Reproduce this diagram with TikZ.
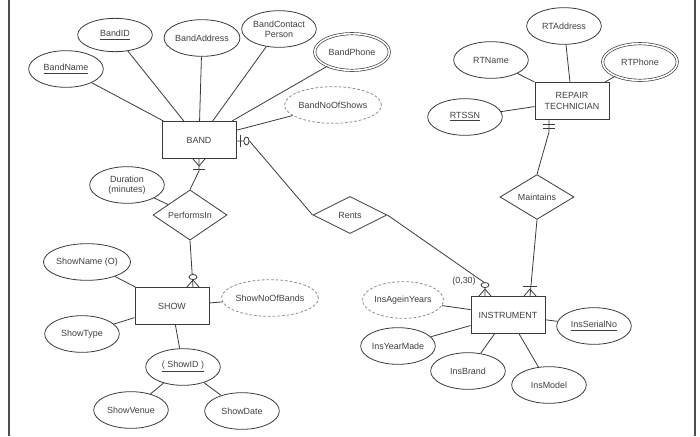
\documentclass[tikz,border=0pt]{standalone}
\usepackage{fontspec}
\setmainfont{Liberation Sans}
\usepackage{tikz}
\usetikzlibrary{shapes.geometric,calc,positioning}
\definecolor{trazo}{HTML}{3A3A3A}
\definecolor{letra}{HTML}{3F3F3F}
\definecolor{discont}{HTML}{8C8C8C}
\tikzset{
  entidad/.style={rectangle,draw=trazo,line width=0.7pt,minimum width=55.5pt,minimum height=27.75pt,inner sep=1pt,align=center,font=\fontsize{6.7}{8.2}\selectfont,text=letra},
  atrib/.style={ellipse,draw=trazo,line width=0.6pt,minimum width=56pt,minimum height=27.5pt,inner sep=0pt,align=center,font=\fontsize{6.7}{7.6}\selectfont,text=letra},
  multi/.style={atrib,double=white,double distance=1.2pt,line width=0.5pt},
  derivado/.style={atrib,draw=discont,dash pattern=on 2pt off 1.5pt},
  relacion/.style={diamond,draw=trazo,line width=0.6pt,minimum width=55.5pt,minimum height=27.75pt,inner sep=0pt,font=\fontsize{6.7}{7.6}\selectfont,text=letra},
  linea/.style={draw=trazo,line width=0.6pt},
  aro/.style={draw=trazo,line width=0.6pt,fill=white},
  card/.style={font=\fontsize{6.7}{7.6}\selectfont,text=letra,inner sep=0pt},
  marco/.style={draw=trazo!90,line width=1.2pt},
}
\begin{document}
\begin{tikzpicture}[x=0.75pt,y=-0.75pt]
\useasboundingbox (0,0) rectangle (700,436);
\draw[marco] (9,0) -- (9,436);
\draw[marco] (695,0) -- (695,436);
% entidades
\node[entidad] (band) at (199,140) {BAND};
\node[entidad] (rt) at (572,101) {REPAIR\\TECHNICIAN};
\node[entidad] (show) at (172,306) {SHOW};
\node[entidad] (instrument) at (508,315) {INSTRUMENT};
% relaciones
\node[relacion] (performsin) at (190,215) {PerformsIn};
\node[relacion] (rents) at (350,215) {Rents};
\node[relacion] (maintains) at (537,197) {Maintains};
% atributos de BAND
\node[atrib,minimum height=25pt] (bandid) at (115,35) {\underline{BandID}};
\node[atrib] (bandname) at (66,69) {\underline{BandName}};
\node[atrib] (bandaddress) at (202,38) {BandAddress};
\node[atrib] (bandcontact) at (279,29) {BandContact\\Person};
\node[multi] (bandphone) at (352,52) {BandPhone};
\node[derivado] (bandnoofshows) at (333,105) {BandNoOfShows};
\draw[linea] (bandid) -- (band);
\draw[linea] (bandname) -- (band);
\draw[linea] (bandaddress) -- (band);
\draw[linea] (bandcontact) -- (band);
\draw[linea] (bandphone) -- (band);
\draw[linea] (bandnoofshows) -- (band);
% atributos de REPAIR TECHNICIAN
\node[atrib] (rtaddress) at (564,26) {RTAddress};
\node[atrib] (rtname) at (491,60) {RTName};
\node[multi] (rtphone) at (640,62) {RTPhone};
\node[atrib] (rtssn) at (465,117) {\underline{RTSSN}};
\draw[linea] (rtaddress) -- (rt);
\draw[linea] (rtname) -- (rt);
\draw[linea] (rtphone) -- (rt);
\draw[linea] (rtssn) -- (rt);
% atributos de SHOW
\node[atrib] (duration) at (127,185) {Duration\\(minutes)};
\node[atrib] (showname) at (87,262) {ShowName (O)};
\node[atrib] (showtype) at (82,334) {ShowType};
\node[derivado] (shownoofbands) at (270,298) {ShowNoOfBands};
\node[atrib] (showid) at (183,367) {\underline{( ShowID )}};
\node[atrib] (showvenue) at (131,410) {ShowVenue};
\node[atrib] (showdate) at (242,411) {ShowDate};
\draw[linea] (duration) -- (performsin);
\draw[linea] (showname) -- (show);
\draw[linea] (showtype) -- (show);
\draw[linea] (shownoofbands) -- (show);
\draw[linea] (showid) -- (show);
\draw[linea] (showid) -- (showvenue);
\draw[linea] (showid) -- (showdate);
% atributos de INSTRUMENT
\node[derivado] (insageinyears) at (403,300) {InsAgeinYears};
\node[atrib] (insyearmade) at (398,346) {InsYearMade};
\node[atrib] (insbrand) at (468,371) {InsBrand};
\node[atrib] (insmodel) at (549,385) {InsModel};
\node[atrib] (insserialno) at (594,326) {\underline{InsSerialNo}};
\draw[linea] (insageinyears) -- (instrument);
\draw[linea] (insyearmade) -- (instrument);
\draw[linea] (insbrand) -- (instrument);
\draw[linea] (insmodel) -- (instrument);
\draw[linea] (insserialno) -- (instrument);
% BAND -- PerformsIn -- SHOW
\coordinate (b1) at (band.south);
\draw[linea] (performsin.north) -- ($(b1)+(0,12)$) -- (b1);
\draw[linea] ($(b1)+(-6,0)$) -- ($(b1)+(0,7)$) -- ($(b1)+(6,0)$);
\draw[linea] ($(b1)+(-6,10)$) -- ($(b1)+(6,10)$);
\coordinate (s1) at ($(show.north)+(21,0)$);
\draw[linea] (performsin.south) -- (s1);
\draw[linea] ($(s1)+(-6,0)$) -- ($(s1)+(0,-7)$) -- ($(s1)+(6,0)$);
\draw[aro] ($(s1)+(0,-10)$) ellipse [x radius=3pt,y radius=1.9pt];
% BAND -- Rents -- INSTRUMENT
\coordinate (b2) at ($(band.east)+(0,1)$);
\draw[linea] (b2) -- ($(b2)+(13,0)$) -- (rents.west);
\draw[linea] ($(b2)+(4,-6)$) -- ($(b2)+(4,6)$);
\draw[aro] ($(b2)+(10,0)$) ellipse [x radius=1.9pt,y radius=3pt];
\coordinate (i1) at ($(instrument.north)+(-23,0)$);
\draw[linea] (rents.east) -- ($(i1)+(0,-13)$) -- (i1);
\draw[linea] ($(i1)+(-6,0)$) -- ($(i1)+(0,-7)$) -- ($(i1)+(6,0)$);
\draw[aro] ($(i1)+(0,-11)$) ellipse [x radius=3pt,y radius=1.9pt];
\node[card] (cardrents) at (464,281) {(0,30)};
% REPAIR TECHNICIAN -- Maintains -- INSTRUMENT
\coordinate (r1) at ($(rt.south)+(-23,0)$);
\draw[linea] (r1) -- ($(r1)+(0,12)$) -- (maintains.north);
\draw[linea] ($(r1)+(-6,4.5)$) -- ($(r1)+(6,4.5)$);
\draw[linea] ($(r1)+(-6,8.5)$) -- ($(r1)+(6,8.5)$);
\coordinate (i2) at ($(instrument.north)+(22,0)$);
\draw[linea] (maintains.south) -- (i2);
\draw[linea] ($(i2)+(-6,0)$) -- ($(i2)+(0,-7)$) -- ($(i2)+(6,0)$);
\draw[linea] ($(i2)+(-7,-10)$) -- ($(i2)+(7,-10)$);
\end{tikzpicture}
\end{document}
